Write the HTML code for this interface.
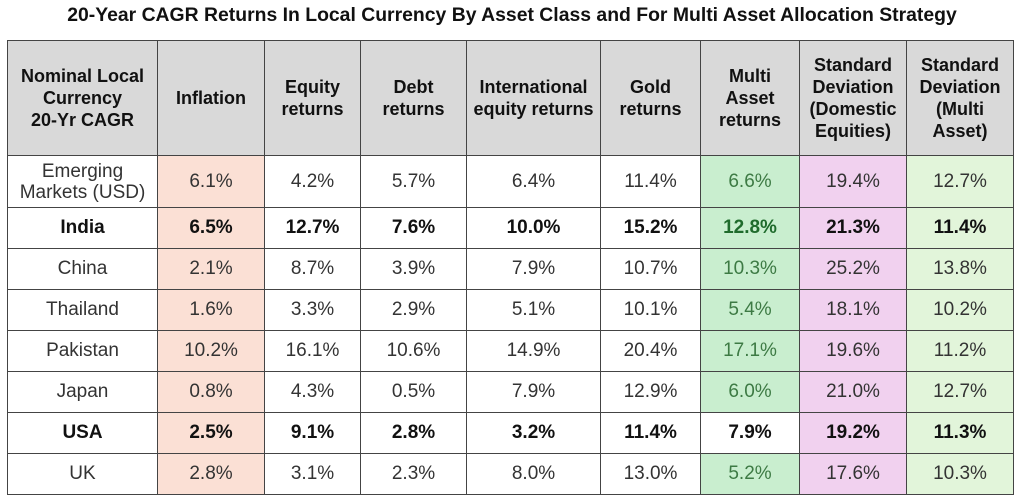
<!DOCTYPE html>
<html><head><style>
body{margin:0;width:1024px;height:503px;background:#fff;overflow:hidden;font-family:"Liberation Sans",sans-serif;}
.t{position:absolute;left:0;top:5px;width:1024px;text-align:center;font-weight:bold;font-size:19px;color:#111;transform:scaleX(1.02);}
table{position:absolute;left:7px;top:40px;border-collapse:collapse;table-layout:fixed;}
td,th{border:1.5px solid #444;text-align:center;font-size:19px;color:#333;padding:0;}
th{background:#d9d9d9;font-weight:bold;color:#111;height:114px;line-height:22px;font-size:18px;}
td{height:40px;}
tr.e td{height:51px;line-height:21px;}
tr.b td{font-weight:bold;color:#111;}
.i{background:#fbe0d5}.m{background:#c9eecf;color:#3d7a44}.p{background:#f1d1ef}.g{background:#e2f5da}
tr.b td.m{color:#1f6b2c}
td.w{background:#fff}
</style></head><body>
<div class="t">20-Year CAGR Returns In Local Currency By Asset Class and For Multi Asset Allocation Strategy</div>
<table>
<colgroup><col style="width:150px"><col style="width:107px"><col style="width:96px"><col style="width:106px"><col style="width:134px"><col style="width:100px"><col style="width:99px"><col style="width:107px"><col style="width:107px"></colgroup>
<tr><th>Nominal Local<br>Currency<br>20-Yr CAGR</th><th>Inflation</th><th>Equity<br>returns</th><th>Debt<br>returns</th><th>International<br>equity returns</th><th>Gold<br>returns</th><th>Multi<br>Asset<br>returns</th><th>Standard<br>Deviation<br>(Domestic<br>Equities)</th><th>Standard<br>Deviation<br>(Multi<br>Asset)</th></tr>
<tr class="e"><td>Emerging<br>Markets (USD)</td><td class="i">6.1%</td><td>4.2%</td><td>5.7%</td><td>6.4%</td><td>11.4%</td><td class="m">6.6%</td><td class="p">19.4%</td><td class="g">12.7%</td></tr>
<tr class="b"><td>India</td><td class="i">6.5%</td><td>12.7%</td><td>7.6%</td><td>10.0%</td><td>15.2%</td><td class="m">12.8%</td><td class="p">21.3%</td><td class="g">11.4%</td></tr>
<tr><td>China</td><td class="i">2.1%</td><td>8.7%</td><td>3.9%</td><td>7.9%</td><td>10.7%</td><td class="m">10.3%</td><td class="p">25.2%</td><td class="g">13.8%</td></tr>
<tr><td>Thailand</td><td class="i">1.6%</td><td>3.3%</td><td>2.9%</td><td>5.1%</td><td>10.1%</td><td class="m">5.4%</td><td class="p">18.1%</td><td class="g">10.2%</td></tr>
<tr><td>Pakistan</td><td class="i">10.2%</td><td>16.1%</td><td>10.6%</td><td>14.9%</td><td>20.4%</td><td class="m">17.1%</td><td class="p">19.6%</td><td class="g">11.2%</td></tr>
<tr><td>Japan</td><td class="i">0.8%</td><td>4.3%</td><td>0.5%</td><td>7.9%</td><td>12.9%</td><td class="m">6.0%</td><td class="p">21.0%</td><td class="g">12.7%</td></tr>
<tr class="b"><td>USA</td><td class="i">2.5%</td><td>9.1%</td><td>2.8%</td><td>3.2%</td><td>11.4%</td><td class="w">7.9%</td><td class="p">19.2%</td><td class="g">11.3%</td></tr>
<tr><td>UK</td><td class="i">2.8%</td><td>3.1%</td><td>2.3%</td><td>8.0%</td><td>13.0%</td><td class="m">5.2%</td><td class="p">17.6%</td><td class="g">10.3%</td></tr>
</table>
</body></html>
